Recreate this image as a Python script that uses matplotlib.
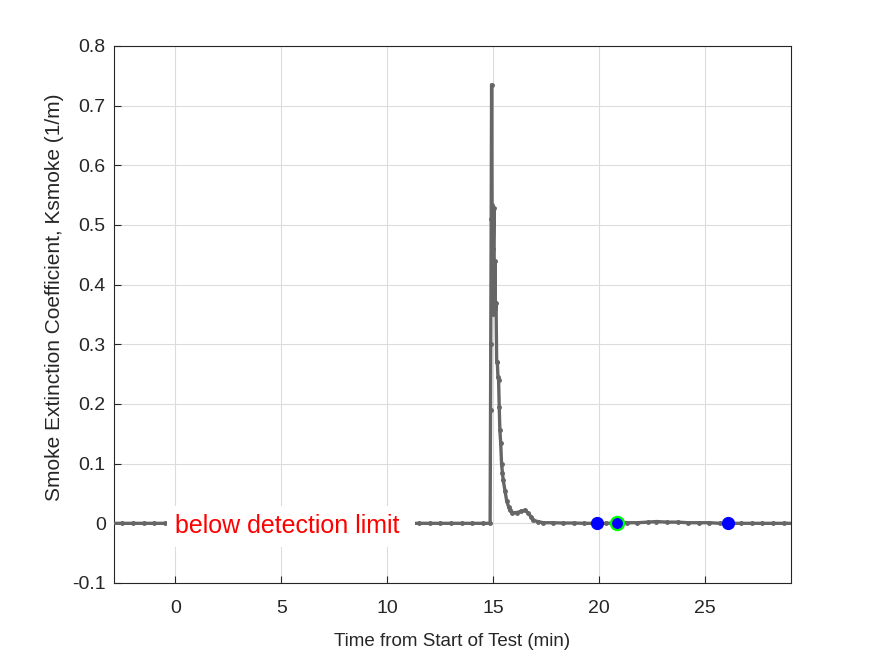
import matplotlib.pyplot as plt
from matplotlib.ticker import FuncFormatter

plt.rcParams['font.family'] = ['Liberation Sans', 'DejaVu Sans']

# baseline before the smoke pulse (min, 1/m)
pre_t = [-3.0, -2.5, -2.0, -1.5, -1.0, -0.5, 0.0, 0.5, 1.0, 1.5, 2.0, 2.5, 3.0,
         3.5, 4.0, 4.5, 5.0, 5.5, 6.0, 6.5, 7.0, 7.5, 8.0, 8.5, 9.0, 9.5, 10.0,
         10.5, 11.0, 11.5, 12.0, 12.5, 13.0, 13.5, 14.0, 14.5, 14.85]
pre_k = [0.0, 0.0, 0.0, 0.0, 0.0, 0.0, 0.0, 0.0, 0.0, 0.0, 0.0, 0.0, 0.0,
         0.0, 0.0, 0.0, 0.0, 0.0, 0.0, 0.0, 0.0, 0.0, 0.0, 0.0, 0.0, 0.0, 0.0,
         0.0, 0.0, 0.0, 0.0, 0.0, 0.0, 0.0, 0.0, 0.0, 0.0]

# smoke pulse
peak_t = [14.87, 14.88, 14.90, 14.92, 14.94, 14.96, 14.98, 15.00, 15.03, 15.05,
          15.08, 15.10, 15.13, 15.16, 15.19, 15.22, 15.25, 15.28, 15.31, 15.35,
          15.39, 15.43, 15.47, 15.55, 15.63, 15.72, 15.79, 15.90, 16.10, 16.30,
          16.49, 16.65, 16.80, 16.89, 17.10, 17.36]
peak_k = [0.19, 0.30, 0.51, 0.735, 0.533, 0.41, 0.35, 0.46, 0.528, 0.385,
          0.44, 0.36, 0.37, 0.27, 0.27, 0.245, 0.24, 0.195, 0.156, 0.134,
          0.10, 0.085, 0.072, 0.055, 0.038, 0.028, 0.022, 0.018, 0.018, 0.02,
          0.022, 0.017, 0.01, 0.005, 0.003, 0.001]

# tail after the pulse
post_t = [17.8, 18.3, 18.8, 19.3, 19.8, 20.3, 20.8, 21.3, 21.8, 22.3, 22.7,
          23.2, 23.7, 24.2, 24.7, 25.2, 25.7, 26.2, 26.7, 27.2, 27.7, 28.2,
          28.7, 29.2]
post_k = [0.001, 0.0005, 0.0005, 0.0, 0.0, 0.0, 0.0005, 0.001, 0.001, 0.002, 0.003,
          0.002, 0.002, 0.001, 0.001, 0.001, 0.0, 0.0, 0.0, 0.0, 0.0, 0.0,
          0.0, 0.0]

# highlighted points
mark_t = [19.9, 26.1]
mark_k = [0.0, 0.0]
sel_t = [20.85]
sel_k = [0.0]

t = pre_t + peak_t + post_t
k = pre_k + peak_k + post_k

fig = plt.figure(figsize=(8.75, 6.56), dpi=100)
ax = fig.add_axes([0.1303, 0.1113, 0.7737, 0.8186])

ax.plot(t, k, color='#666666', lw=2.4, marker='o', ms=2.5, zorder=3)
ax.plot(mark_t, mark_k, 'o', color='#0000ff', ms=8.5, zorder=4)
ax.plot(sel_t, sel_k, 'o', color='#0000ff', mec='#00ff00', mew=1.6, ms=9.5, zorder=4)

ax.text(0, -0.005, 'below detection limit ', color='red', fontsize=18,
        ha='left', va='center', zorder=5,
        bbox=dict(facecolor='white', edgecolor='none', pad=6))

ax.set_xlim(-2.9, 29.05)
ax.set_ylim(-0.1, 0.8)
ax.set_xticks([0, 5, 10, 15, 20, 25])
ax.set_yticks([-0.1, 0, 0.1, 0.2, 0.3, 0.4, 0.5, 0.6, 0.7, 0.8])
ax.yaxis.set_major_formatter(FuncFormatter(lambda v, p: '%g' % round(v, 2)))
ax.grid(True, color='#dcdcdc', lw=0.8)
ax.set_axisbelow(True)
ax.tick_params(direction='in', length=5, labelsize=14, color='#262626', labelcolor='#262626')
ax.tick_params(axis='y', pad=6)
ax.tick_params(axis='x', pad=12)
for s in ax.spines.values():
    s.set_color('#262626')
    s.set_linewidth(0.8)

ax.set_xlabel('Time from Start of Test (min)', fontsize=13.5, color='#262626', labelpad=12)
ax.set_ylabel('Smoke Extinction Coefficient, Ksmoke (1/m)', fontsize=15, color='#262626')
ax.yaxis.set_label_coords(-0.074, 0.533)

fig.savefig('out.png', dpi=100)
